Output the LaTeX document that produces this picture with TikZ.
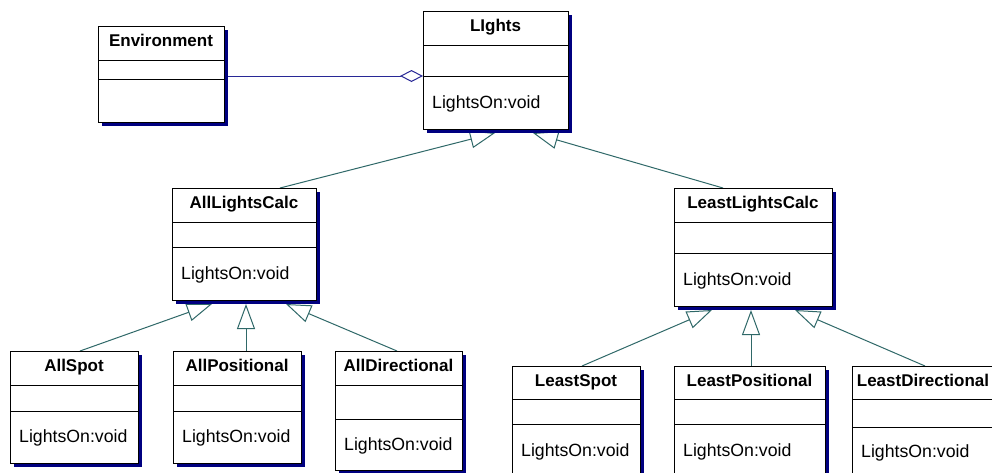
\documentclass[tikz,border=0pt]{standalone}
\usepackage{fontspec}
\setmainfont{Liberation Sans}
\usetikzlibrary{arrows.meta,calc,shadows}
\pgfdeclarelayer{paper}
\pgfdeclarelayer{connectors}
\pgfsetlayers{paper,connectors,main}
\definecolor{shadowblue}{RGB}{0,0,128}
\definecolor{genteal}{RGB}{47,104,104}
\definecolor{aggblue}{RGB}{40,40,150}

\tikzset{
  classframe/.style={draw=black, line width=1pt, fill=white, anchor=north west,
    inner sep=0pt, outer sep=0pt,
    general shadow={fill=shadowblue, shadow xshift=4pt, shadow yshift=-4pt}},
  divider/.style={draw=black, line width=1pt},
  classname/.style={font=\bfseries\fontsize{17}{20}\selectfont, anchor=base, inner sep=0pt},
  operation/.style={font=\fontsize{17.7}{20}\selectfont, anchor=base west, inner sep=0pt},
  generalization/.style={draw=genteal, line width=1pt,
    -{Triangle[open, length=25pt, width=18pt]}},
  aggregation/.style={draw=aggblue, line width=1pt,
    -{Diamond[open, length=23pt, width=12pt]}},
}

% \classbox{name}{x}{y}{width}{height}{first divider}{second divider}{class name}
\newcommand\classbox[8]{%
  \node[classframe, minimum width=#4pt, minimum height=#5pt] (#1) at (#2,#3) {};
  \draw[divider] ($(#1.north west)+(0,#6)$) -- ($(#1.north east)+(0,#6)$);
  \draw[divider] ($(#1.north west)+(0,#7)$) -- ($(#1.north east)+(0,#7)$);
  \node[classname] (#1-name) at ($(#1.north)+(0,20)$) {#8};
}
% \classop{name}{baseline below the top edge}
\newcommand\classop[2]{%
  \node[operation] (#1-op) at ($(#1.north west)+(9,#2)$) {LightsOn:void};
}

\begin{document}
\begin{tikzpicture}[x=1pt, y=-1pt]
  \useasboundingbox (0,0) rectangle (992,472);
  \clip (0,0) rectangle (992,472);
  \begin{pgfonlayer}{paper}
    \fill[white] (0,0) rectangle (992,472);
  \end{pgfonlayer}

  % classes
  \classbox{env}{98}{26}{126}{96}{34}{53}{Environment}
  \classbox{lights}{423}{11}{145}{118}{34}{65}{LIghts}
  \classop{lights}{97}
  \classbox{alc}{172}{188}{144}{112}{34}{59}{AllLightsCalc}
  \classop{alc}{91}
  \classbox{llc}{674}{188}{158}{118}{34}{65}{LeastLightsCalc}
  \classop{llc}{97}
  \classbox{aspot}{10}{351}{128}{112}{34}{60}{AllSpot}
  \classop{aspot}{91}
  \classbox{apos}{173}{351}{128}{112}{34}{60}{AllPositional}
  \classop{apos}{91}
  \classbox{adir}{335}{351}{127}{119}{34}{68}{AllDirectional}
  \classop{adir}{99}
  \classbox{lspot}{512}{366}{128}{120}{33}{58}{LeastSpot}
  \classop{lspot}{90}
  \classbox{lpos}{674}{366}{151}{120}{33}{58}{LeastPositional}
  \classop{lpos}{90}
  \classbox{ldir}{852}{366}{142}{120}{33}{61}{LeastDirectional}
  \classop{ldir}{91}

  % attachment points of the relations
  \coordinate (envR)   at ($(env.north east)+(0,50)$);
  \coordinate (lightsL) at ($(lights.north west)+(0,65)$);
  \coordinate (lightsA) at ($(lights.south west)+(72,4)$);
  \coordinate (lightsB) at ($(lights.south west)+(110,4)$);
  \coordinate (alcT)  at ($(alc.north west)+(108,0)$);
  \coordinate (llcT)  at ($(llc.north west)+(49,0)$);
  \coordinate (alcA)  at ($(alc.south west)+(40,4)$);
  \coordinate (alcB)  at ($(alc.south west)+(74,4)$);
  \coordinate (alcC)  at ($(alc.south west)+(114,4)$);
  \coordinate (llcA)  at ($(llc.south west)+(38,4)$);
  \coordinate (llcB)  at ($(llc.south west)+(77,4)$);
  \coordinate (llcC)  at ($(llc.south west)+(121,4)$);
  \coordinate (aspotT) at ($(aspot.north west)+(70,0)$);
  \coordinate (aposT)  at ($(apos.north west)+(73,0)$);
  \coordinate (adirT)  at ($(adir.north west)+(62,0)$);
  \coordinate (lspotT) at ($(lspot.north west)+(70,0)$);
  \coordinate (lposT)  at ($(lpos.north west)+(77,0)$);
  \coordinate (ldirT)  at ($(ldir.north west)+(73,0)$);

  % relations, kept behind the class boxes
  \begin{pgfonlayer}{connectors}
    \draw[aggregation] (envR) -- (lightsL);
    \draw[generalization] (alcT) -- (lightsA);
    \draw[generalization] (llcT) -- (lightsB);
    \draw[generalization] (aspotT) -- (alcA);
    \draw[generalization] (aposT) -- (alcB);
    \draw[generalization] (adirT) -- (alcC);
    \draw[generalization] (lspotT) -- (llcA);
    \draw[generalization] (lposT) -- (llcB);
    \draw[generalization] (ldirT) -- (llcC);
  \end{pgfonlayer}
\end{tikzpicture}
\end{document}
